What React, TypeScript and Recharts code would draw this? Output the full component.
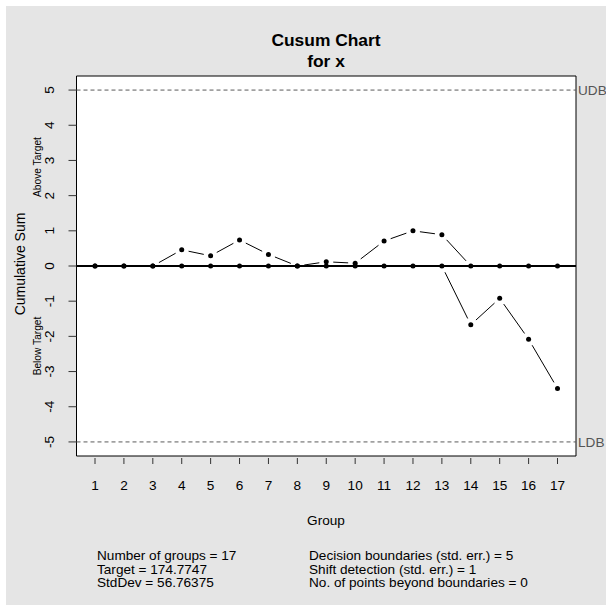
import React from "react";
import {
  ComposedChart,
  Scatter,
  XAxis,
  YAxis,
  CartesianGrid,
  ReferenceLine,
  ReferenceArea,
} from "recharts";

const groups = [1, 2, 3, 4, 5, 6, 7, 8, 9, 10, 11, 12, 13, 14, 15, 16, 17];
const aboveTarget = [0, 0, 0, 0.46, 0.29, 0.74, 0.33, 0, 0.12, 0.08, 0.71, 1.0, 0.89, 0, 0, 0, 0];
const belowTarget = [0, 0, 0, 0, 0, 0, 0, 0, 0, 0, 0, 0, 0, -1.67, -0.92, -2.08, -3.48];
const yTicks = [-5, -4, -3, -2, -1, 0, 1, 2, 3, 4, 5];
const decisionBound = 5;

const summaryLeft = ["Number of groups = 17", "Target = 174.7747", "StdDev = 56.76375"];
const summaryRight = [
  "Decision boundaries (std. err.) = 5",
  "Shift detection (std. err.) = 1",
  "No. of points beyond boundaries = 0",
];

const FONT = "'Liberation Sans', Arial, sans-serif";

const aboveRows = groups.map((g, i) => ({ group: g, value: aboveTarget[i] }));
const belowRows = groups.map((g, i) => ({ group: g, value: belowTarget[i] }));

// R-style type="b" line: segments stop short of each point
function GappedLine(props: any) {
  const pts: { x: number; y: number }[] = props.points || [];
  const gap = 7;
  const segs: React.ReactNode[] = [];
  for (let i = 0; i < pts.length - 1; i++) {
    const a = pts[i];
    const b = pts[i + 1];
    const dx = b.x - a.x;
    const dy = b.y - a.y;
    const len = Math.sqrt(dx * dx + dy * dy);
    if (len <= gap * 2) continue;
    const ux = dx / len;
    const uy = dy / len;
    segs.push(
      <line
        key={i}
        x1={a.x + ux * gap}
        y1={a.y + uy * gap}
        x2={b.x - ux * gap}
        y2={b.y - uy * gap}
        stroke="#000"
        strokeWidth={1}
      />
    );
  }
  return <g>{segs}</g>;
}

const Dot = (props: any) => <circle cx={props.cx} cy={props.cy} r={2.5} fill="#000" />;

const XTick = (props: any) => {
  const { x, y, payload } = props;
  return (
    <g>
      <line x1={x} x2={x} y1={y + 2} y2={y + 8} stroke="#333" strokeWidth={1} />
      <text x={x} y={y + 34} textAnchor="middle" fontSize={13.6} fontFamily={FONT} fill="#000">
        {payload.value}
      </text>
    </g>
  );
};

const YTick = (props: any) => {
  const { x, y, payload } = props;
  const tx = x - 14.5;
  return (
    <text
      x={tx}
      y={y}
      transform={`rotate(-90 ${tx} ${y})`}
      textAnchor="middle"
      fontSize={13.6}
      fontFamily={FONT}
      fill="#000"
    >
      {payload.value}
    </text>
  );
};

export default function App() {
  return (
    <div style={{ position: "absolute", left: 0, top: 0, width: 606, height: 608, background: "#fff" }}>
      <div style={{ position: "absolute", left: 6, top: 6, width: 600, height: 599, background: "#e5e5e5" }}>
        <ComposedChart
          width={600}
          height={599}
          margin={{ top: 70, right: 30, bottom: 119, left: 0 }}
          style={{ position: "absolute", left: 0, top: 0 }}
        >
          <CartesianGrid horizontal={false} vertical={false} fill="#fff" />
          <XAxis
            dataKey="group"
            type="number"
            domain={[0.36, 17.64]}
            ticks={groups}
            interval={0}
            allowDataOverflow
            axisLine={false}
            tickLine={false}
            tickSize={0}
            tickMargin={0}
            height={30}
            tick={<XTick />}
          />
          <YAxis
            dataKey="value"
            type="number"
            domain={[-5.4, 5.4]}
            ticks={yTicks}
            interval={0}
            allowDataOverflow
            axisLine={false}
            tickLine={{ stroke: "#333", strokeWidth: 1 }}
            tickSize={8}
            tickMargin={0}
            width={70.5}
            tick={<YTick />}
          />
          <ReferenceLine
            y={decisionBound}
            stroke="#5a5a5a"
            strokeDasharray="4 3"
            label={{ value: "UDB", position: "right", offset: 2, fill: "#555", fontSize: 13.6, fontFamily: FONT }}
          />
          <ReferenceLine
            y={-decisionBound}
            stroke="#5a5a5a"
            strokeDasharray="4 3"
            label={{ value: "LDB", position: "right", offset: 2, fill: "#555", fontSize: 13.6, fontFamily: FONT }}
          />
          <ReferenceLine y={0} stroke="#000" strokeWidth={2} />
          <Scatter
            data={aboveRows}
            dataKey="value"
            line={GappedLine}
            shape={Dot}
            isAnimationActive={false}
          />
          <Scatter
            data={belowRows}
            dataKey="value"
            line={GappedLine}
            shape={Dot}
            isAnimationActive={false}
          />
          <ReferenceArea
            x1={0.36}
            x2={17.64}
            y1={-5.4}
            y2={5.4}
            fill="none"
            fillOpacity={0}
            stroke="#000"
            strokeWidth={1}
            ifOverflow="visible"
          />
        </ComposedChart>
      </div>
      <svg
        width={606}
        height={608}
        style={{ position: "absolute", left: 0, top: 0, pointerEvents: "none" }}
        fontFamily={FONT}
      >
        <text x={326} y={45.5} textAnchor="middle" fontSize={17.4} fontWeight="bold" fill="#000">
          Cusum Chart
        </text>
        <text x={326} y={67} textAnchor="middle" fontSize={17.4} fontWeight="bold" fill="#000">
          for x
        </text>
        <text x={25} y={264} transform="rotate(-90 25 264)" textAnchor="middle" fontSize={14} fill="#000">
          Cumulative Sum
        </text>
        <text x={41} y={167} transform="rotate(-90 41 167)" textAnchor="middle" fontSize={10.2} fill="#000">
          Above Target
        </text>
        <text x={41} y={346} transform="rotate(-90 41 346)" textAnchor="middle" fontSize={10.2} fill="#000">
          Below Target
        </text>
        <text x={326} y={525} textAnchor="middle" fontSize={13.6} fill="#000">
          Group
        </text>
        {summaryLeft.map((s, i) => (
          <text key={s} x={97} y={560 + i * 13.7} fontSize={13.6} fill="#000">
            {s}
          </text>
        ))}
        {summaryRight.map((s, i) => (
          <text key={s} x={309} y={560 + i * 13.7} fontSize={13.6} fill="#000">
            {s}
          </text>
        ))}
      </svg>
    </div>
  );
}
